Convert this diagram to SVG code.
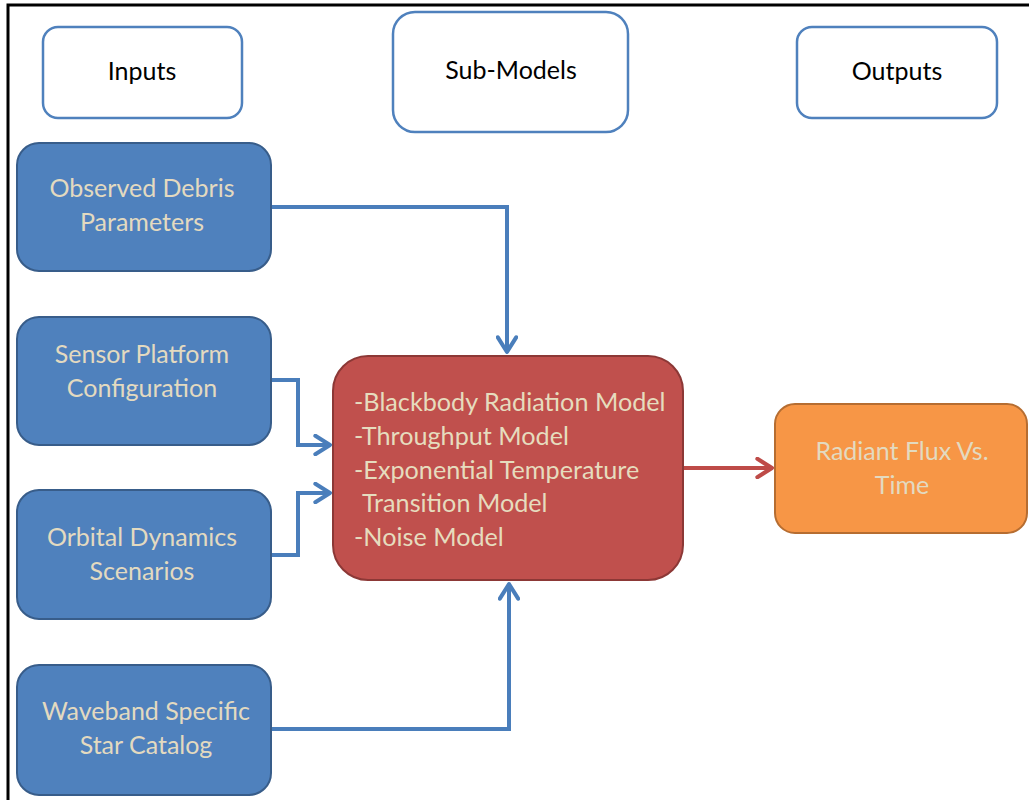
<svg xmlns="http://www.w3.org/2000/svg" width="1029" height="800" viewBox="0 0 1029 800">
  <style>
    .hdr { fill: #ffffff; stroke: #4f81bd; stroke-width: 2.5; }
    .hdr-t { font-family: Lato, "Liberation Sans", sans-serif; font-size: 25px; fill: #000000; text-anchor: middle; }
    .in { fill: #4f81bd; stroke: #385d8a; stroke-width: 2; }
    .sub { fill: #c0504d; stroke: #8c3836; stroke-width: 2; }
    .out { fill: #f79646; stroke: #b66d31; stroke-width: 2; }
    .lbl { font-family: Lato, "Liberation Sans", sans-serif; font-size: 25px; fill: #e3dac0; text-anchor: middle; }
    .lst { font-family: Lato, "Liberation Sans", sans-serif; font-size: 25.2px; fill: #e6dcbe; }
    .conn { fill: none; stroke: #4a7ebb; stroke-width: 4; stroke-linejoin: miter; }
    .conn-r { fill: none; stroke: #be4b48; stroke-width: 4; }
  </style>
  <defs>
    <marker id="arrB" viewBox="0 0 12 12" refX="10" refY="6" markerWidth="5.5" markerHeight="5.5" markerUnits="strokeWidth" orient="auto">
      <path d="M2,1 L10,6 L2,11" fill="none" stroke="#4a7ebb" stroke-width="2.2" stroke-linecap="round" stroke-linejoin="round"/>
    </marker>
    <marker id="arrR" viewBox="0 0 12 12" refX="10" refY="6" markerWidth="5.5" markerHeight="5.5" markerUnits="strokeWidth" orient="auto">
      <path d="M2,1 L10,6 L2,11" fill="none" stroke="#be4b48" stroke-width="2.2" stroke-linecap="round" stroke-linejoin="round"/>
    </marker>
  </defs>

  <rect width="1029" height="800" fill="#ffffff"/>
  <!-- outer frame (top and left edges) -->
  <path d="M8,800 V5 H1029" fill="none" stroke="#000000" stroke-width="3"/>

  <!-- column headers -->
  <g id="hdr-inputs">
    <rect class="hdr" x="43" y="27" width="199" height="91" rx="15"/>
    <text class="hdr-t" x="142" y="80">Inputs</text>
  </g>
  <g id="hdr-submodels">
    <rect class="hdr" x="393" y="12" width="235" height="120" rx="22"/>
    <text class="hdr-t" x="511" y="79">Sub-Models</text>
  </g>
  <g id="hdr-outputs">
    <rect class="hdr" x="797" y="27" width="200" height="91" rx="15"/>
    <text class="hdr-t" x="897" y="80">Outputs</text>
  </g>

  <!-- connectors -->
  <g id="connectors">
    <path class="conn" d="M271,207 H507 V352" marker-end="url(#arrB)"/>
    <path class="conn" d="M271,380 H298 V445 H330" marker-end="url(#arrB)"/>
    <path class="conn" d="M271,555 H298 V493 H330" marker-end="url(#arrB)"/>
    <path class="conn" d="M271,729 H509 V584" marker-end="url(#arrB)"/>
    <path class="conn-r" d="M683,468 H772" marker-end="url(#arrR)"/>
  </g>

  <!-- inputs -->
  <g id="observed-debris">
    <rect class="in" x="17" y="143" width="254" height="128" rx="22"/>
    <text class="lbl" x="142" y="197">Observed Debris</text>
    <text class="lbl" x="142" y="231">Parameters</text>
  </g>
  <g id="sensor-platform">
    <rect class="in" x="17" y="317" width="254" height="128" rx="22"/>
    <text class="lbl" x="142" y="363">Sensor Platform</text>
    <text class="lbl" x="142" y="397">Configuration</text>
  </g>
  <g id="orbital-dynamics">
    <rect class="in" x="17" y="490" width="254" height="129" rx="22"/>
    <text class="lbl" x="142" y="546">Orbital Dynamics</text>
    <text class="lbl" x="142" y="580">Scenarios</text>
  </g>
  <g id="star-catalog">
    <rect class="in" x="17" y="665" width="254" height="130" rx="22"/>
    <text class="lbl" x="146" y="720">Waveband Specific</text>
    <text class="lbl" x="146" y="754">Star Catalog</text>
  </g>

  <!-- sub-models -->
  <g id="sub-models">
    <rect class="sub" x="333" y="356" width="350" height="224" rx="35"/>
    <text class="lst" x="354" y="411">-Blackbody Radiation Model</text>
    <text class="lst" x="354" y="445">-Throughput Model</text>
    <text class="lst" x="354" y="479">-Exponential Temperature</text>
    <text class="lst" x="362" y="512">Transition Model</text>
    <text class="lst" x="354" y="546">-Noise Model</text>
  </g>

  <!-- output -->
  <g id="radiant-flux">
    <rect class="out" x="775" y="404" width="252" height="129" rx="20"/>
    <text class="lbl" x="902" y="460">Radiant Flux Vs.</text>
    <text class="lbl" x="902" y="494">Time</text>
  </g>
</svg>
